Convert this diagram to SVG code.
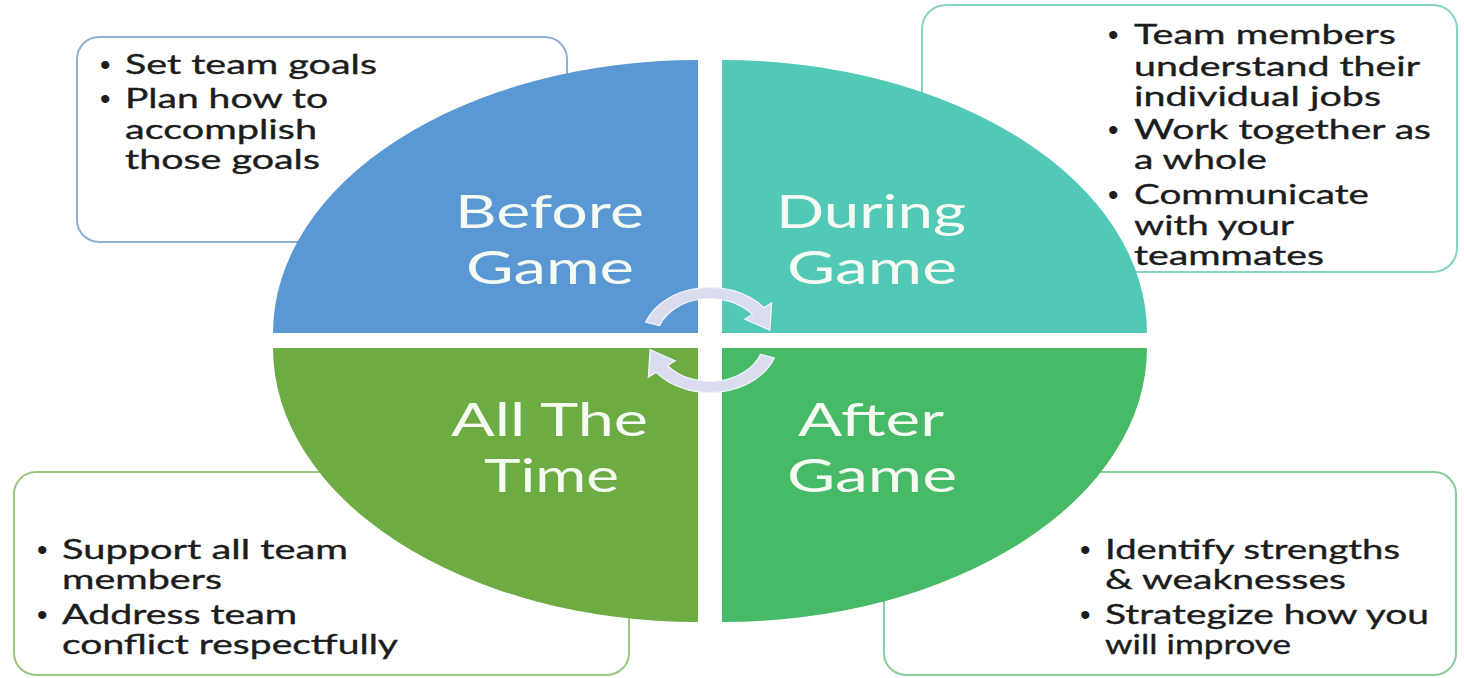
<svg xmlns="http://www.w3.org/2000/svg" width="1464" height="678" viewBox="0 0 1464 678">
<style>
.box{fill:#ffffff;stroke-width:2}
.bl{stroke:#8FB0D2}
.tr{stroke:#86D3C6}
.gl{stroke:#9CC681}
.gr{stroke:#8ACB9C}
.t{font-family:Lato,"Open Sans","Liberation Sans",sans-serif;font-size:27px;fill:#1c1c1c;stroke:#1c1c1c;stroke-width:0.35}
.b{font-family:"Liberation Sans",sans-serif;font-size:30px;fill:#1c1c1c}
.q{font-family:Lato,"Open Sans","Liberation Sans",sans-serif;font-size:46px;fill:#F5FAF2}
.arr{fill:#D9DBEF;stroke:#F2F3FB;stroke-width:1.2}
</style>
<rect width="1464" height="678" fill="#ffffff"/>
<g id="box-before">
<rect class="box bl" x="77" y="37" width="490" height="205" rx="22"/>
<text class="b" x="100" y="75">•</text>
<text class="t" x="125" y="74" textLength="252" lengthAdjust="spacingAndGlyphs">Set team goals</text>
<text class="b" x="100" y="109">•</text>
<text class="t" x="125" y="108" textLength="203" lengthAdjust="spacingAndGlyphs">Plan how to</text>
<text class="t" x="125" y="139" textLength="192" lengthAdjust="spacingAndGlyphs">accomplish</text>
<text class="t" x="125" y="169" textLength="195" lengthAdjust="spacingAndGlyphs">those goals</text>
</g>
<g id="box-during">
<rect class="box tr" x="922" y="5" width="535" height="267" rx="24"/>
<text class="b" x="1108" y="45">•</text>
<text class="t" x="1134" y="44" textLength="262" lengthAdjust="spacingAndGlyphs">Team members</text>
<text class="t" x="1134" y="76" textLength="286" lengthAdjust="spacingAndGlyphs">understand their</text>
<text class="t" x="1134" y="106" textLength="247" lengthAdjust="spacingAndGlyphs">individual jobs</text>
<text class="b" x="1108" y="140">•</text>
<text class="t" x="1134" y="139" textLength="297" lengthAdjust="spacingAndGlyphs">Work together as</text>
<text class="t" x="1134" y="169" textLength="133" lengthAdjust="spacingAndGlyphs">a whole</text>
<text class="b" x="1108" y="205">•</text>
<text class="t" x="1134" y="204" textLength="235" lengthAdjust="spacingAndGlyphs">Communicate</text>
<text class="t" x="1134" y="235" textLength="160" lengthAdjust="spacingAndGlyphs">with your</text>
<text class="t" x="1134" y="265" textLength="190" lengthAdjust="spacingAndGlyphs">teammates</text>
</g>
<g id="box-all">
<rect class="box gl" x="14" y="472" width="615" height="203" rx="22"/>
<text class="b" x="37" y="560">•</text>
<text class="t" x="62" y="559" textLength="286" lengthAdjust="spacingAndGlyphs">Support all team</text>
<text class="t" x="62" y="589" textLength="160" lengthAdjust="spacingAndGlyphs">members</text>
<text class="b" x="37" y="625">•</text>
<text class="t" x="62" y="624" textLength="235" lengthAdjust="spacingAndGlyphs">Address team</text>
<text class="t" x="62" y="654" textLength="336" lengthAdjust="spacingAndGlyphs">conflict respectfully</text>
</g>
<g id="box-after">
<rect class="box gr" x="884" y="472" width="572" height="203" rx="22"/>
<text class="b" x="1080" y="560">•</text>
<text class="t" x="1105" y="559" textLength="295" lengthAdjust="spacingAndGlyphs">Identify strengths</text>
<text class="t" x="1105" y="589" textLength="241" lengthAdjust="spacingAndGlyphs">&amp; weaknesses</text>
<text class="b" x="1080" y="625">•</text>
<text class="t" x="1105" y="624" textLength="324" lengthAdjust="spacingAndGlyphs">Strategize how you</text>
<text class="t" x="1105" y="654" textLength="186" lengthAdjust="spacingAndGlyphs">will improve</text>
</g>
<g id="quad-before">
<path d="M698 333 L273 333 A425 273 0 0 1 698 60 Z" fill="#5A98D4"/>
<text class="q" x="455" y="228" textLength="189" lengthAdjust="spacingAndGlyphs">Before</text>
<text class="q" x="466" y="284" textLength="168" lengthAdjust="spacingAndGlyphs">Game</text>
</g>
<g id="quad-during">
<path d="M722 333 L722 60 A425 273 0 0 1 1147 333 Z" fill="#52C8B6"/>
<text class="q" x="776" y="228" textLength="190" lengthAdjust="spacingAndGlyphs">During</text>
<text class="q" x="787" y="284" textLength="170" lengthAdjust="spacingAndGlyphs">Game</text>
</g>
<g id="quad-all">
<path d="M698 348 L698 622 A425 274 0 0 1 273 348 Z" fill="#6DAB43"/>
<text class="q" x="451" y="436" textLength="197" lengthAdjust="spacingAndGlyphs">All The</text>
<text class="q" x="484" y="492" textLength="135" lengthAdjust="spacingAndGlyphs">Time</text>
</g>
<g id="quad-after">
<path d="M722 348 L1147 348 A425 274 0 0 1 722 622 Z" fill="#47BA67"/>
<text class="q" x="798" y="436" textLength="146" lengthAdjust="spacingAndGlyphs">After</text>
<text class="q" x="787" y="492" textLength="170" lengthAdjust="spacingAndGlyphs">Game</text>
</g>
<g id="connectors">
<g transform="translate(710 340) scale(1.3 1)">
<path class="arr" d="M-39 -14.19 L-49.33 -17.96 A52.5 52.5 0 0 1 41.37 -32.32 L47.28 -36.94 L45.97 -9.77 L26.79 -20.93 L32.7 -25.55 A41.5 41.5 0 0 0 -39 -14.19 Z"/>
<path class="arr" transform="rotate(180)" d="M-39 -14.19 L-49.33 -17.96 A52.5 52.5 0 0 1 41.37 -32.32 L47.28 -36.94 L45.97 -9.77 L26.79 -20.93 L32.7 -25.55 A41.5 41.5 0 0 0 -39 -14.19 Z"/>
</g>
</g>
</svg>
